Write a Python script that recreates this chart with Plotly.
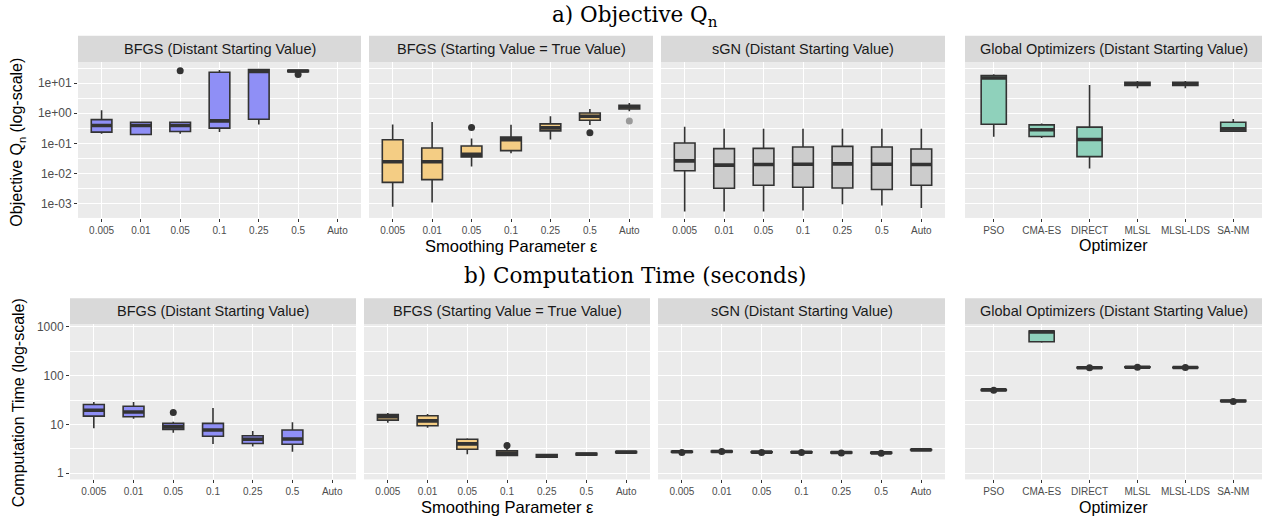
import plotly.graph_objects as go

W, H = 1266, 520

eps_cats = ["0.005", "0.01", "0.05", "0.1", "0.25", "0.5", "Auto"]
opt_cats = ["PSO", "CMA-ES", "DIRECT", "MLSL", "MLSL-LDS", "SA-NM"]

strip_titles = ["BFGS (Distant Starting Value)", "BFGS (Starting Value = True Value)",
                "sGN (Distant Starting Value)", "Global Optimizers (Distant Starting Value)"]

# ---------------- a) Objective Qn ----------------
# BFGS (Distant Starting Value)
obj_bd_x = ["0.005", "0.01", "0.05", "0.1", "0.25", "0.5"]
obj_bd_low = [0.207, 0.197, 0.207, 0.236, 0.42, 23.6]
obj_bd_q1 = [0.236, 0.197, 0.247, 0.32, 0.634, 24.2]
obj_bd_med = [0.39, 0.39, 0.39, 0.557, 24.9, 25.5]
obj_bd_q3 = [0.615, 0.505, 0.505, 23.1, 28.3, 27.0]
obj_bd_up = [1.26, 0.505, 0.505, 27.5, 28.3, 28.3]
obj_bd_out_x = ["0.05", "0.5"]
obj_bd_out_y = [26.2, 19.4]

# BFGS (Starting Value = True Value)
obj_bt_x = eps_cats
obj_bt_low = [0.00077, 0.00107, 0.0169, 0.0465, 0.1345, 0.41, 1.16]
obj_bt_q1 = [0.005, 0.00615, 0.0353, 0.057, 0.26, 0.587, 1.39]
obj_bt_med = [0.0242, 0.0242, 0.043, 0.1315, 0.327, 0.796, 1.61]
obj_bt_q3 = [0.1315, 0.070, 0.0815, 0.161, 0.443, 1.02, 1.84]
obj_bt_up = [0.42, 0.516, 0.145, 0.411, 0.796, 1.39, 2.19]
obj_bt_out_x = ["0.05", "0.5"]
obj_bt_out_y = [0.335, 0.224]
obj_bt_out2_x = ["Auto"]
obj_bt_out2_y = [0.557]

# sGN (Distant Starting Value)
obj_sg_x = eps_cats
obj_sg_low = [0.00054, 0.00054, 0.00054, 0.00058, 0.00094, 0.00085, 0.0007]
obj_sg_q1 = [0.0122, 0.00318, 0.004, 0.00343, 0.00325, 0.00288, 0.004]
obj_sg_med = [0.026, 0.0187, 0.0197, 0.0201, 0.0207, 0.0201, 0.0197]
obj_sg_q3 = [0.102, 0.0664, 0.068, 0.0755, 0.079, 0.0755, 0.0649]
obj_sg_up = [0.353, 0.303, 0.303, 0.303, 0.303, 0.303, 0.303]

# Global Optimizers (Distant Starting Value)
obj_go_x = opt_cats
obj_go_low = [0.165, 0.15, 0.0145, 6.84, 6.84, 0.236]
obj_go_q1 = [0.433, 0.169, 0.0361, 8.4, 8.4, 0.255]
obj_go_med = [15.0, 0.281, 0.1345, 9.5, 9.5, 0.303]
obj_go_q3 = [17.9, 0.411, 0.345, 10.8, 10.8, 0.505]
obj_go_up = [19.8, 0.454, 8.79, 11.9, 11.9, 0.649]

# ---------------- b) Computation Time ----------------
time_bd_x = ["0.005", "0.01", "0.05", "0.1", "0.25", "0.5"]
time_bd_low = [8.3, 13.0, 6.7, 3.98, 3.51, 2.74]
time_bd_q1 = [14.8, 14.3, 7.9, 5.7, 4.04, 3.92]
time_bd_med = [19.5, 18.0, 8.9, 7.66, 4.95, 5.02]
time_bd_q3 = [25.5, 23.6, 10.5, 10.5, 5.86, 7.66]
time_bd_up = [28.8, 28.8, 11.3, 21.7, 7.3, 11.0]
time_bd_out_x = ["0.05"]
time_bd_out_y = [17.5]

time_bt_x = eps_cats
time_bt_low = [10.8, 8.53, 2.45, 2.3, 2.05, 2.3, 2.55]
time_bt_q1 = [12.2, 9.37, 3.1, 2.3, 2.12, 2.36, 2.62]
time_bt_med = [14.3, 11.8, 3.98, 2.57, 2.27, 2.45, 2.7]
time_bt_q3 = [16.0, 15.0, 4.95, 2.87, 2.4, 2.55, 2.78]
time_bt_up = [17.2, 16.4, 5.2, 3.25, 2.45, 2.6, 2.85]
time_bt_out_x = ["0.1"]
time_bt_out_y = [3.67]

time_sg_x = eps_cats
time_sg_low = [2.6, 2.65, 2.55, 2.55, 2.5, 2.5, 2.95]
time_sg_q1 = [2.7, 2.72, 2.65, 2.63, 2.6, 2.55, 2.98]
time_sg_med = [2.75, 2.78, 2.7, 2.68, 2.65, 2.6, 3.0]
time_sg_q3 = [2.8, 2.83, 2.75, 2.73, 2.7, 2.66, 3.03]
time_sg_up = [2.85, 2.88, 2.8, 2.78, 2.75, 2.72, 3.05]
time_sg_out_x = ["0.005", "0.01", "0.05", "0.1", "0.25", "0.5"]
time_sg_out_y = [2.65, 2.77, 2.65, 2.65, 2.6, 2.57]

time_go_x = opt_cats
time_go_low = [48, 473, 140, 145, 142, 29]
time_go_q1 = [49.5, 495, 143, 147, 145, 29.5]
time_go_med = [51, 791, 145, 149, 147, 30.2]
time_go_q3 = [52, 818, 148, 151, 149, 31]
time_go_up = [53, 818, 150, 153, 151, 31.5]
time_go_out_x = ["PSO", "DIRECT", "MLSL", "MLSL-LDS", "SA-NM"]
time_go_out_y = [50, 145, 149, 147, 29.5]

# colours
BLUE = "#8F8FF6"
ORANGE = "#F4CD84"
GREY = "#CCCCCC"
GREEN = "#8FD1BB"
DARK = "#333333"

fig = go.Figure()


def add_box(ax, x, low, q1, med, q3, up, fill):
    xa, ya = "x" + ax, "y" + ax
    fig.add_trace(go.Box(x=x, lowerfence=low, q1=q1, median=med, q3=q3, upperfence=up,
                         fillcolor=fill, line=dict(color=DARK, width=1.6), whiskerwidth=0,
                         xaxis=xa, yaxis=ya, showlegend=False, boxpoints=False))
    fig.add_trace(go.Box(x=x, lowerfence=med, q1=med, median=med, q3=med, upperfence=med,
                         fillcolor="rgba(0,0,0,0)", line=dict(color=DARK, width=3.6), whiskerwidth=0,
                         xaxis=xa, yaxis=ya, showlegend=False, boxpoints=False))


def add_out(ax, x, y, color=DARK):
    fig.add_trace(go.Scatter(x=x, y=y, mode="markers", marker=dict(color=color, size=7),
                             xaxis="x" + ax, yaxis="y" + ax, showlegend=False))


add_box("", obj_bd_x, obj_bd_low, obj_bd_q1, obj_bd_med, obj_bd_q3, obj_bd_up, BLUE)
add_out("", obj_bd_out_x, obj_bd_out_y)
add_box("2", obj_bt_x, obj_bt_low, obj_bt_q1, obj_bt_med, obj_bt_q3, obj_bt_up, ORANGE)
add_out("2", obj_bt_out_x, obj_bt_out_y)
add_out("2", obj_bt_out2_x, obj_bt_out2_y, "#9A9A9A")
add_box("3", obj_sg_x, obj_sg_low, obj_sg_q1, obj_sg_med, obj_sg_q3, obj_sg_up, GREY)
add_box("4", obj_go_x, obj_go_low, obj_go_q1, obj_go_med, obj_go_q3, obj_go_up, GREEN)

add_box("5", time_bd_x, time_bd_low, time_bd_q1, time_bd_med, time_bd_q3, time_bd_up, BLUE)
add_out("5", time_bd_out_x, time_bd_out_y)
add_box("6", time_bt_x, time_bt_low, time_bt_q1, time_bt_med, time_bt_q3, time_bt_up, ORANGE)
add_out("6", time_bt_out_x, time_bt_out_y)
add_box("7", time_sg_x, time_sg_low, time_sg_q1, time_sg_med, time_sg_q3, time_sg_up, GREY)
add_out("7", time_sg_out_x, time_sg_out_y)
add_box("8", time_go_x, time_go_low, time_go_q1, time_go_med, time_go_q3, time_go_up, GREEN)
add_out("8", time_go_out_x, time_go_out_y)

# ---------------- layout ----------------
top_px = [(78, 361), (369, 653), (661, 945), (965, 1262)]
bot_px = [(70, 356), (364, 650), (658, 945), (965, 1262)]
top_y = (58.5, 216)
bot_y = (323, 480)
top_strip = (32, 58.5)
bot_strip = (297, 323)

SANS = "Liberation Sans, Arial, sans-serif"
layout = dict(width=W, height=H, margin=dict(l=0, r=0, t=0, b=0),
              paper_bgcolor="white", plot_bgcolor="#EBEBEB", boxmode="overlay", boxgap=0.25,
              font=dict(family=SANS, color="#1A1A1A"), hovermode=False)

obj_ticks = [0.001, 0.01, 0.1, 1, 10]
obj_ticktext = ["1e-03", "1e-02", "1e-01", "1e+00", "1e+01"]
obj_minor = [10 ** -2.5, 10 ** -1.5, 10 ** -0.5, 10 ** 0.5, 10 ** 1.5]
time_ticks = [1, 10, 100, 1000]
time_ticktext = ["1", "10", "100", "1000"]
time_minor = [10 ** 0.5, 10 ** 1.5, 10 ** 2.5]

shapes = []
annotations = []
for row in range(2):
    pxs = top_px if row == 0 else bot_px
    py = top_y if row == 0 else bot_y
    sy = top_strip if row == 0 else bot_strip
    for col in range(4):
        i = row * 4 + col + 1
        key = "" if i == 1 else str(i)
        cats = opt_cats if col == 3 else eps_cats
        x0, x1 = pxs[col]
        layout["xaxis" + key] = dict(
            domain=[x0 / W, x1 / W], anchor="y" + key, type="category",
            categoryorder="array", categoryarray=cats, range=[-0.6, len(cats) - 0.4],
            showgrid=True, gridcolor="white", gridwidth=1.1, zeroline=False,
            ticks="outside", ticklen=3, tickcolor=DARK, tickwidth=1,
            tickfont=dict(size=10, color="#4D4D4D", family=SANS), showline=False, fixedrange=True)
        if row == 0:
            yr = [-3.485, 1.709]
            tv, tt, mv = obj_ticks, obj_ticktext, obj_minor
        else:
            yr = [-0.128, 3.061]
            tv, tt, mv = time_ticks, time_ticktext, time_minor
        layout["yaxis" + key] = dict(
            domain=[1 - py[1] / H, 1 - py[0] / H], anchor="x" + key, type="log", range=yr,
            tickmode="array", tickvals=tv, ticktext=tt, showticklabels=(col == 0),
            ticks="outside" if col == 0 else "", ticklen=3, tickcolor=DARK, tickwidth=1,
            tickfont=dict(size=12, color="#4D4D4D", family=SANS),
            showgrid=True, gridcolor="white", gridwidth=1.1, zeroline=False,
            minor=dict(tickmode="array", tickvals=mv, showgrid=True, gridcolor="white",
                       gridwidth=0.55, ticks=""),
            showline=False, fixedrange=True)
        shapes.append(dict(type="rect", xref="paper", yref="paper",
                           x0=x0 / W, x1=x1 / W, y0=1 - sy[1] / H, y1=1 - sy[0] / H,
                           fillcolor="#D9D9D9", line=dict(width=0), layer="below"))
        annotations.append(dict(text=strip_titles[col], xref="paper", yref="paper",
                                x=(x0 + x1) / 2 / W, y=1 - (sy[0] + sy[1]) / 2 / H,
                                xanchor="center", yanchor="middle", showarrow=False,
                                font=dict(size=14.5, color="#1A1A1A", family=SANS)))

SERIF = "DejaVu Serif, Liberation Serif, serif"
annotations += [
    dict(text="a) Objective Q<sub>n</sub>", x=635 / W, y=1 - 13 / H, xref="paper", yref="paper",
         xanchor="center", yanchor="middle", showarrow=False, font=dict(size=21.5, family=SERIF, color="black")),
    dict(text="b) Computation Time (seconds)", x=635 / W, y=1 - 274 / H, xref="paper", yref="paper",
         xanchor="center", yanchor="middle", showarrow=False, font=dict(size=21.5, family=SERIF, color="black")),
    dict(text="Objective Q<sub>n</sub> (log-scale)", x=18 / W, y=1 - 140 / H, xref="paper", yref="paper",
         xanchor="center", yanchor="middle", textangle=-90, showarrow=False, font=dict(size=16, family=SANS, color="black")),
    dict(text="Computation Time (log-scale)", x=18 / W, y=1 - 403 / H, xref="paper", yref="paper",
         xanchor="center", yanchor="middle", textangle=-90, showarrow=False, font=dict(size=16, family=SANS, color="black")),
    dict(text="Smoothing Parameter ε", x=511 / W, y=1 - 244 / H, xref="paper", yref="paper",
         xanchor="center", yanchor="middle", showarrow=False, font=dict(size=16.5, family=SANS, color="black")),
    dict(text="Optimizer", x=1113 / W, y=1 - 244 / H, xref="paper", yref="paper",
         xanchor="center", yanchor="middle", showarrow=False, font=dict(size=16, family=SANS, color="black")),
    dict(text="Smoothing Parameter ε", x=507 / W, y=1 - 508 / H, xref="paper", yref="paper",
         xanchor="center", yanchor="middle", showarrow=False, font=dict(size=16.5, family=SANS, color="black")),
    dict(text="Optimizer", x=1113 / W, y=1 - 508 / H, xref="paper", yref="paper",
         xanchor="center", yanchor="middle", showarrow=False, font=dict(size=16, family=SANS, color="black")),
]

layout["shapes"] = shapes
layout["annotations"] = annotations
fig.update_layout(**layout)

fig.write_html("out.html", config={"displayModeBar": False},
               post_script="document.body.style.margin='0';document.body.style.padding='0';")
